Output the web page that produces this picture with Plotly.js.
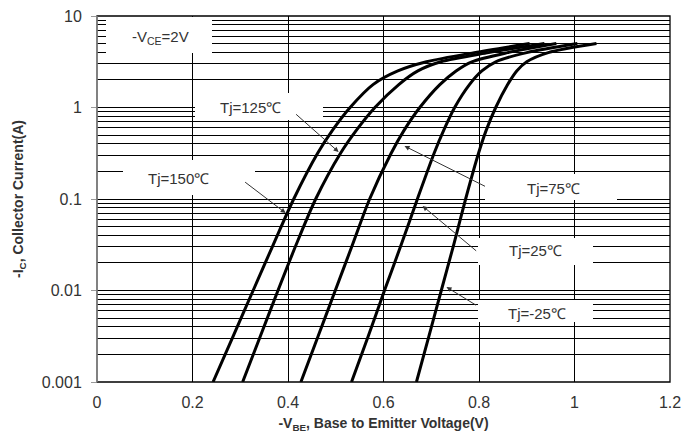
<!DOCTYPE html>
<html>
<head>
<meta charset="utf-8">
<script src="https://cdn.plot.ly/plotly-3.0.1.min.js"></script>
<style>html,body{margin:0;padding:0;background:#fff;}#chart{width:699px;height:439px;}</style>
</head>
<body>
<div id="chart"></div>
<script>
// Collector current levels (A) shared by the curves
var current = [0.001, 0.00316, 0.01, 0.0316, 0.1, 0.316, 0.562, 1.0, 1.78, 2.51, 3.16, 3.98, 5.0];
// Base-emitter voltage (V) for each junction temperature
var vbe150 = [0.243, 0.285, 0.327, 0.369, 0.412, 0.462, 0.493, 0.530, 0.578, 0.630, 0.690, 0.790, 0.906];
var vbe125 = [0.305, 0.342, 0.379, 0.417, 0.458, 0.510, 0.543, 0.582, 0.632, 0.672, 0.720, 0.820, 0.937];
var vbe75  = [0.427, 0.463, 0.499, 0.535, 0.571, 0.616, 0.643, 0.676, 0.718, 0.752, 0.785, 0.860, 0.962];
var vbe25  = [0.533, 0.568, 0.602, 0.637, 0.671, 0.706, 0.726, 0.749, 0.780, 0.806, 0.835, 0.900, 1.006];
var vbeM25 = [0.669, 0.695, 0.721, 0.747, 0.772, 0.799, 0.815, 0.835, 0.860, 0.879, 0.900, 0.945, 1.046];

var seriesNames = ['Tj=150℃', 'Tj=125℃', 'Tj=75℃', 'Tj=25℃', 'Tj=-25℃'];
var xTickVals = [0, 0.2, 0.4, 0.6, 0.8, 1, 1.2];
var xTickText = ['0', '0.2', '0.4', '0.6', '0.8', '1', '1.2'];
var yTickVals = [0.001, 0.01, 0.1, 1, 10];
var yTickText = ['0.001', '0.01', '0.1', '1', '10'];

// arrow heads (V, I) for each label
var arrowHeadV = [0.395, 0.506, 0.644, 0.682, 0.732];
var arrowHeadI = [0.0703, 0.3266, 0.379, 0.0837, 0.0109];

var xs = [vbe150, vbe125, vbe75, vbe25, vbeM25];
var traces = xs.map(function(x, i){
  return {x: x, y: current, type: 'scatter', mode: 'lines', name: seriesNames[i],
    line: {color: '#000', width: 3, shape: 'spline', smoothing: 0.8}, hoverinfo: 'skip'};
});

var W = 699, H = 439, L = 97, R = 670, T = 16, B = 382;
function px(p){ return (p - L) / (R - L); }
function py(p){ return (B - p) / (B - T); }
function box(x0, x1, y0, y1){
  return {type: 'rect', xref: 'paper', yref: 'paper', x0: px(x0), x1: px(x1), y0: py(y1), y1: py(y0),
    fillcolor: '#fff', line: {width: 0}, layer: 'above'};
}
var shapes = [
  box(106, 212, 17, 53),
  box(195, 323, 93, 120),
  box(123, 255, 160, 195),
  box(485, 617, 174, 200),
  box(478, 593, 238, 265),
  box(478, 593, 300, 322),
  // frame
  {type: 'rect', xref: 'paper', yref: 'paper', x0: 0, x1: 1, y0: 0, y1: 1, line: {color: '#000', width: 1.3}, layer: 'above'},
  {type: 'line', xref: 'paper', yref: 'paper', x0: 0, x1: 0, y0: 0, y1: 1, line: {color: '#999', width: 1.3}, layer: 'above'}
];

var txtFont = {family: 'Liberation Sans, Arial, sans-serif', size: 15, color: '#333'};
function label(text, cx, cy){
  return {xref: 'paper', yref: 'paper', x: px(cx), y: py(cy), text: text, showarrow: false,
    font: txtFont, xanchor: 'center', yanchor: 'middle'};
}
var labelPos = [[178, 178], [250, 108], [553, 188], [535, 251], [537, 313]];
var tailOff = [[-42, -32], [-44, -39], [82, 41], [55, 46], [31, 19]];
var annotations = [label('-V<sub>CE</sub>=2V', 160, 38)];
for (var i = 0; i < seriesNames.length; i++) {
  annotations.push(label(seriesNames[i], labelPos[i][0], labelPos[i][1]));
  annotations.push({xref: 'x', yref: 'y', x: arrowHeadV[i], y: Math.log10(arrowHeadI[i]), text: '',
    showarrow: true, arrowhead: 2, arrowsize: 1, arrowwidth: 1, arrowcolor: '#333',
    ax: tailOff[i][0], ay: tailOff[i][1], standoff: 0, startstandoff: 0});
}

var layout = {
  width: W, height: H,
  margin: {l: L, r: W - R, t: T, b: H - B},
  paper_bgcolor: '#fff', plot_bgcolor: '#fff',
  showlegend: false,
  font: {family: 'Liberation Sans, Arial, sans-serif', color: '#333'},
  xaxis: {
    range: [0, 1.2], tickvals: xTickVals, ticktext: xTickText,
    showgrid: true, gridcolor: '#000', gridwidth: 1, zeroline: false,
    showline: false, ticks: '', tickfont: {size: 16, color: '#333'}, ticklabelstandoff: 9,
    title: {text: '<b>-V<sub>BE</sub>, Base to Emitter Voltage(V)</b>', font: {size: 14, color: '#333'}, standoff: 8}
  },
  yaxis: {
    type: 'log', range: [-3, 1], tickvals: yTickVals, ticktext: yTickText,
    showgrid: true, gridcolor: '#000', gridwidth: 1, zeroline: false,
    showline: false, ticks: 'outside', ticklen: 5, tickcolor: '#999', tickfont: {size: 16, color: '#333'},
    ticklabelstandoff: 6,
    minor: {dtick: 'D1', showgrid: true, gridcolor: '#000', gridwidth: 1, ticks: ''},
    title: {text: '<b>-I<sub>C</sub>, Collector Current(A)</b>', font: {size: 14, color: '#333'}, standoff: 14}
  },
  shapes: shapes,
  annotations: annotations
};
Plotly.newPlot('chart', traces, layout, {staticPlot: true, displayModeBar: false});
</script>
</body>
</html>
